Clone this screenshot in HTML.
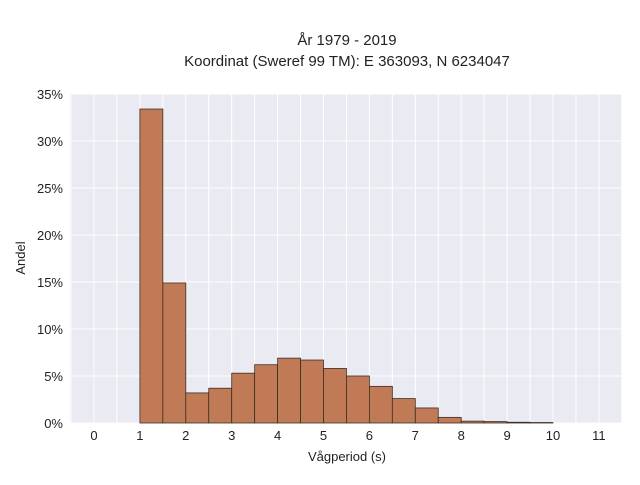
<!DOCTYPE html>
<html><head><meta charset="utf-8"><style>
body{margin:0;background:#fff;font-family:"Liberation Sans",sans-serif}
</style></head><body>
<svg id="c" width="640" height="480" xmlns="http://www.w3.org/2000/svg">
<text x="347" y="45" text-anchor="middle" font-size="15" fill="#222">År 1979 - 2019</text>
<text x="347" y="66" text-anchor="middle" font-size="15" fill="#222">Koordinat (Sweref 99 TM): E 363093, N 6234047</text>
<rect x="70" y="94" width="552" height="329" fill="#eaeaf2"/>
<g id="grid"></g><g id="bars"></g><g id="ticks"></g>
<text x="347" y="461" text-anchor="middle" font-size="13" fill="#222">Vågperiod (s)</text>
<text transform="translate(25,258) rotate(-90)" text-anchor="middle" font-size="13" fill="#222">Andel</text>
</svg>
<script>
const binStarts=[1,1.5,2,2.5,3,3.5,4,4.5,5,5.5,6,6.5,7,7.5,8,8.5,9,9.5];
const shares=[33.4,14.9,3.2,3.7,5.3,6.2,6.9,6.7,5.8,5.0,3.9,2.6,1.6,0.6,0.2,0.15,0.08,0.05];
const xTicks=[0,1,2,3,4,5,6,7,8,9,10,11];
const yTicks=[0,5,10,15,20,25,30,35];
const binWidth=0.5;
const NS="http://www.w3.org/2000/svg";
const X=v=>94+v*45.9, Y=v=>423-v*9.4;
const g=document.getElementById('grid'),b=document.getElementById('bars'),t=document.getElementById('ticks');
function mk(tag,at,p){const e=document.createElementNS(NS,tag);for(const k in at)e.setAttribute(k,at[k]);p.appendChild(e);return e;}
for(let v=-0.5;v<=11.5;v+=0.5){const x=X(v);if(x<70||x>622)continue;
 const l=mk('line',{x1:x,x2:x,y1:94,y2:423,stroke:'#fff','stroke-width':1},g);
 
 }
yTicks.forEach(v=>{const l=mk('line',{x1:70,x2:622,y1:Y(v),y2:Y(v),stroke:'#fff','stroke-width':1},g);
 
 
 const tx=mk('text',{x:63,y:Y(v)+5,'text-anchor':'end','font-size':13,fill:'#222'},t);tx.textContent=v+'%';
 
 });
xTicks.forEach(v=>{const tx=mk('text',{x:X(v),y:440,'text-anchor':'middle','font-size':13,fill:'#222'},t);tx.textContent=v;
 
 });
binStarts.forEach((s,i)=>{const x0=X(s),x1=X(s+binWidth),y=Y(shares[i]);
 const r=mk('rect',{x:x0,y:y,width:x1-x0,height:423-y,fill:'#c07a55',stroke:'#3d2e25','stroke-width':0.8},b);
 
 });
</script>
</body></html>
